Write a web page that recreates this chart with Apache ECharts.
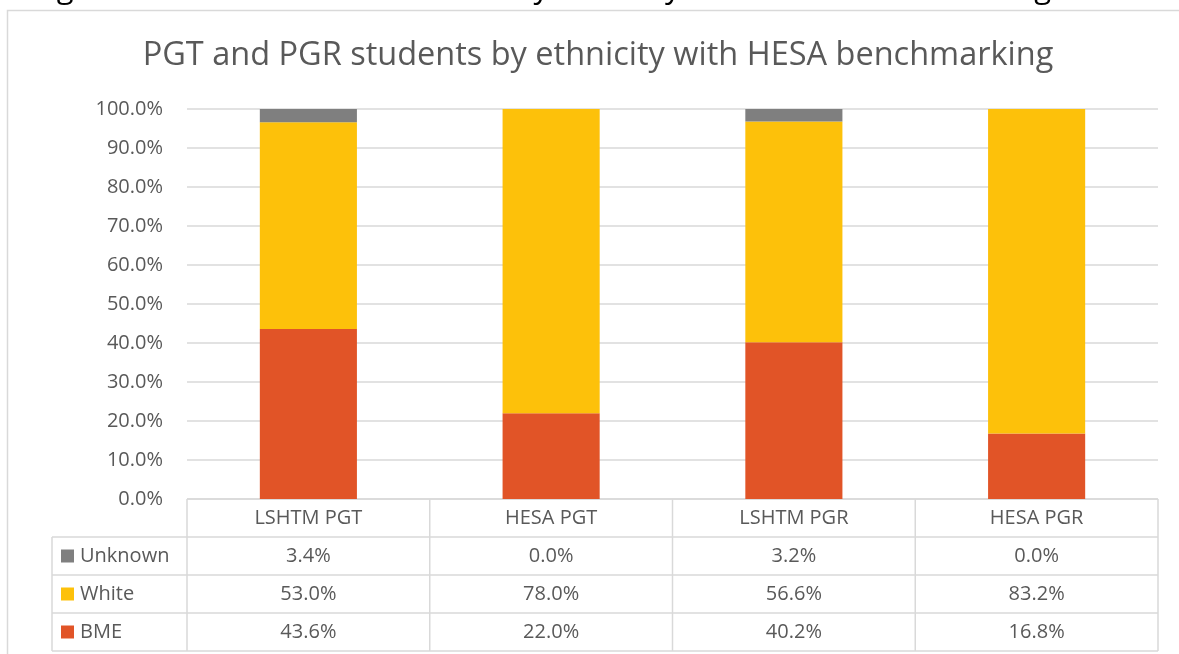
<!DOCTYPE html>
<html>
<head>
<meta charset="utf-8">
<script src="https://cdn.jsdelivr.net/npm/echarts@6/dist/echarts.min.js"></script>
<style>
    html, body { margin: 0; padding: 0; background: #fff; }
    #chart { width: 1179px; height: 654px; }
</style>
</head>
<body>
<div id="chart"></div>
<script>
var categories = ['LSHTM PGT', 'HESA PGT', 'LSHTM PGR', 'HESA PGR'];
var unknownValues = [3.4, 0.0, 3.2, 0.0];
var whiteValues = [53.0, 78.0, 56.6, 83.2];
var bmeValues = [43.6, 22.0, 40.2, 16.8];
// table rows, top to bottom
var rowNames = ['Unknown', 'White', 'BME'];
var rowValues = [unknownValues, whiteValues, bmeValues];
var rowColors = ['#7f7f7f', '#fdc10a', '#e15427'];

var font = 'Open Sans';
var textColor = '#595959';
var lineColor = '#d9d9d9';
var labelSize = 20;

var gridLeft = 187, gridRight = 1158, gridTop = 109, gridBottom = 499;
var rowH = 38, labelLeft = 52;

var myChart = echarts.init(document.getElementById('chart'));

var option = {
    animation: false,
    backgroundColor: '#fff',
    grid: {
        left: gridLeft,
        right: 1179 - gridRight,
        top: gridTop,
        bottom: 654 - gridBottom
    },
    xAxis: {
        type: 'category',
        data: categories,
        axisLine: { show: false },
        axisTick: { show: false },
        axisLabel: { show: false }
    },
    yAxis: {
        type: 'value',
        min: 0,
        max: 100,
        interval: 10,
        axisLine: { show: false },
        axisTick: { show: false },
        axisLabel: {
            margin: 24,
            color: textColor,
            fontFamily: font,
            fontSize: labelSize,
            formatter: function (v) { return v.toFixed(1) + '%'; }
        },
        splitLine: { lineStyle: { color: lineColor, width: 1.5 } }
    },
    series: [
        { name: 'BME', type: 'bar', stack: 'all', data: bmeValues, barWidth: '40%', itemStyle: { color: rowColors[2] } },
        { name: 'White', type: 'bar', stack: 'all', data: whiteValues, itemStyle: { color: rowColors[1] } },
        { name: 'Unknown', type: 'bar', stack: 'all', data: unknownValues, itemStyle: { color: rowColors[0] } }
    ]
};
myChart.setOption(option);

function BuildGraphics() {
    var els = [];
    var cellFont = labelSize + 'px "' + font + '"';
    // outer frame
    els.push({
        type: 'rect', silent: true,
        shape: { x: 7.5, y: 10.5, width: 1300, height: 800 },
        style: { fill: null, stroke: lineColor, lineWidth: 1.5 }
    });
    // caption above the frame, mostly cut off by the page edge
    els.push({
        type: 'text', silent: true,
        style: {
            x: 33, y: 5, text: 'Figure 10: PGT and PGR students by ethnicity with HESA benchmarking',
            font: '31px "' + font + '"', fill: '#000', verticalAlign: 'bottom'
        }
    });
    // title
    els.push({
        type: 'text', silent: true,
        style: {
            x: 598, y: 56, text: 'PGT and PGR students by ethnicity with HESA benchmarking',
            font: '32.5px "' + font + '"', fill: textColor, align: 'center', verticalAlign: 'middle'
        }
    });

    var step = myChart.convertToPixel({ xAxisIndex: 0 }, categories[1]) - myChart.convertToPixel({ xAxisIndex: 0 }, categories[0]);
    var tableBottom = gridBottom + rowH * (rowNames.length + 1);

    // horizontal lines
    els.push({ type: 'line', silent: true, shape: { x1: gridLeft, y1: gridBottom, x2: gridRight, y2: gridBottom }, style: { stroke: lineColor, lineWidth: 1.5 } });
    for (var r = 1; r <= rowNames.length + 1; r++) {
        var y = gridBottom + rowH * r;
        els.push({ type: 'line', silent: true, shape: { x1: labelLeft, y1: y, x2: gridRight, y2: y }, style: { stroke: lineColor, lineWidth: 1.5 } });
    }
    // vertical lines
    els.push({ type: 'line', silent: true, shape: { x1: labelLeft, y1: gridBottom + rowH, x2: labelLeft, y2: tableBottom }, style: { stroke: lineColor, lineWidth: 1.5 } });
    for (var c = 0; c <= categories.length; c++) {
        var x = gridLeft + step * c;
        els.push({ type: 'line', silent: true, shape: { x1: x, y1: gridBottom, x2: x, y2: tableBottom }, style: { stroke: lineColor, lineWidth: 1.5 } });
    }

    // header row
    for (var i = 0; i < categories.length; i++) {
        var cx = myChart.convertToPixel({ xAxisIndex: 0 }, categories[i]);
        els.push({
            type: 'text', silent: true,
            style: { x: cx, y: gridBottom + rowH / 2, text: categories[i], font: cellFont, fill: textColor, align: 'center', verticalAlign: 'middle' }
        });
    }
    // data rows
    for (var r = 0; r < rowNames.length; r++) {
        var cy = gridBottom + rowH * (r + 1.5);
        els.push({ type: 'rect', silent: true, shape: { x: 61, y: cy - 6.5, width: 13, height: 13 }, style: { fill: rowColors[r] } });
        els.push({
            type: 'text', silent: true,
            style: { x: 80, y: cy, text: rowNames[r], font: cellFont, fill: textColor, align: 'left', verticalAlign: 'middle' }
        });
        for (var i = 0; i < categories.length; i++) {
            var cx = myChart.convertToPixel({ xAxisIndex: 0 }, categories[i]);
            els.push({
                type: 'text', silent: true,
                style: { x: cx, y: cy, text: rowValues[r][i].toFixed(1) + '%', font: cellFont, fill: textColor, align: 'center', verticalAlign: 'middle' }
            });
        }
    }
    myChart.setOption({ graphic: { elements: els } });
}
BuildGraphics();
</script>
</body>
</html>
